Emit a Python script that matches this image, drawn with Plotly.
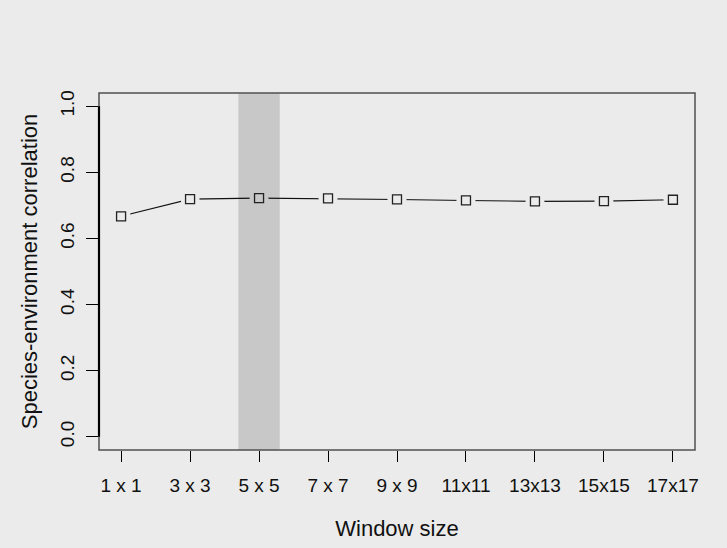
import plotly.graph_objects as go

window_labels = ["1 x 1", "3 x 3", "5 x 5", "7 x 7", "9 x 9", "11x11", "13x13", "15x15", "17x17"]
positions = [1, 2, 3, 4, 5, 6, 7, 8, 9]
correlation = [0.667, 0.719, 0.722, 0.721, 0.718, 0.715, 0.712, 0.713, 0.717]
highlight_index = 2  # 5 x 5 window

BG = "#EBEBEB"
BAND = "#C8C8C8"
FONT = "Liberation Sans, Arial, Helvetica, sans-serif"

fig = go.Figure()

# line
fig.add_trace(go.Scatter(x=positions, y=correlation, mode="lines",
                         line=dict(color="#111111", width=1.1), hoverinfo="skip", showlegend=False))
# gaps around points (R type="b")
gap_colors = [BAND if i == highlight_index else BG for i in range(len(positions))]
fig.add_trace(go.Scatter(x=positions, y=correlation, mode="markers",
                         marker=dict(symbol="circle", size=19, color=gap_colors, line=dict(width=0)),
                         hoverinfo="skip", showlegend=False))
# open squares
fig.add_trace(go.Scatter(x=positions, y=correlation, mode="markers",
                         marker=dict(symbol="square-open", size=9, color="#222222", line=dict(width=1.3)),
                         showlegend=False))

# highlighted band
fig.add_shape(type="rect", xref="x", yref="paper",
              x0=positions[highlight_index] - 0.3, x1=positions[highlight_index] + 0.3,
              y0=0, y1=1, fillcolor=BAND, line=dict(width=0), layer="below")
# box
fig.add_shape(type="rect", xref="paper", yref="paper", x0=0, x1=1, y0=0, y1=1,
              line=dict(color="#505050", width=1.5), fillcolor="rgba(0,0,0,0)")
# y axis line
fig.add_shape(type="line", xref="paper", yref="y", x0=0, x1=0, y0=0, y1=1,
              line=dict(color="black", width=2.2))

fig.update_layout(
    width=727, height=548,
    paper_bgcolor=BG, plot_bgcolor=BG,
    margin=dict(l=99, r=32, t=93, b=98),
    font=dict(family=FONT, size=19, color="#111111"),
    xaxis=dict(range=[0.68, 9.32], tickvals=positions, ticktext=window_labels,
               ticks="outside", ticklen=11, tickcolor="black", tickwidth=1,
               showgrid=False, zeroline=False, showline=False,
               tickfont=dict(size=19), ticklabelstandoff=7,
               title=dict(text="Window size", font=dict(size=22), standoff=25)),
    yaxis=dict(range=[-0.04, 1.04], tickvals=[0, 0.2, 0.4, 0.6, 0.8, 1.0],
               ticktext=["0.0", "0.2", "0.4", "0.6", "0.8", "1.0"],
               tickangle=-90, ticks="outside", ticklen=12, tickcolor="black", tickwidth=1,
               showgrid=False, zeroline=False, showline=False,
               tickfont=dict(size=19), ticklabelstandoff=4,
               title=dict(text="Species-environment correlation", font=dict(size=22), standoff=13)),
)

fig.write_html("out.html", config={"displayModeBar": False},
               post_script="document.body.style.margin='0';document.body.style.background='#EBEBEB';")
